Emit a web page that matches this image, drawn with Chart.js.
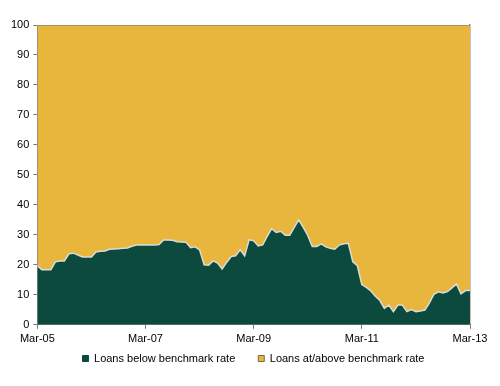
<!DOCTYPE html>
<html>
<head>
<meta charset="utf-8">
<script src="https://cdn.jsdelivr.net/npm/chart.js@4"></script>
<style>
  html, body { margin: 0; padding: 0; background: #fff; }
  #wrap { width: 500px; height: 386px; }
</style>
</head>
<body>
<div id="wrap"><canvas id="grafico-emprestimos"></canvas></div>
<script>
// monthly, Mar-05 .. Mar-13
var tickLabels = ["Mar-05", "Mar-07", "Mar-09", "Mar-11", "Mar-13"];
var belowBenchmark = [
  19.7, 18.4, 18.4, 18.4, 21.0, 21.3, 21.3, 23.7, 23.9, 23.3,
  22.6, 22.6, 22.6, 24.3, 24.5, 24.6, 25.2, 25.3, 25.4, 25.5,
  25.6, 26.2, 26.6, 26.6, 26.6, 26.6, 26.6, 26.8, 28.3, 28.3,
  28.2, 27.7, 27.6, 27.5, 25.7, 26.0, 25.0, 20.0, 19.9, 21.3,
  20.6, 18.6, 20.8, 22.8, 23.0, 25.0, 23.0, 28.4, 28.0, 26.3,
  26.7, 29.5, 32.1, 30.8, 31.2, 29.9, 29.9, 32.5, 35.0, 32.5,
  29.8, 26.1, 26.1, 27.0, 26.0, 25.5, 25.2, 26.6, 27.0, 27.2,
  21.0, 19.7, 13.4, 12.5, 11.3, 9.5, 8.1, 5.5, 6.6, 4.4,
  6.6, 6.6, 4.4, 5.1, 4.4, 4.6, 4.9, 7.3, 10.2, 11.0,
  10.6, 11.1, 12.3, 13.6, 10.3, 11.4, 11.4
];
var atOrAboveBenchmark = belowBenchmark.map(function (v) { return 100 - v; });

var ctx = document.getElementById("grafico-emprestimos").getContext("2d");

// legend sits closer to the axis than chart.js puts it
var legendNudge = {
  id: "legendNudge",
  afterInit: function (chart) {
    var lg = chart.legend;
    var fit = lg.fit;
    lg.fit = function () {
      fit.call(this);
      this.height -= 8;
    };
  },
  afterLayout: function (chart) {
    var lg = chart.legend;
    lg.top -= 20;
    lg.bottom -= 20;
    lg.left += 15;
    lg.right += 15;
  },
};

new Chart(ctx, {
  type: "line",
  data: {
    datasets: [
      {
        label: "Loans below benchmark rate",
        data: belowBenchmark.map(function (v, i) { return { x: i, y: v }; }),
        backgroundColor: "#0b4a3c",
        borderColor: "#d9dcd9",
        borderWidth: 1.5,
        pointRadius: 0,
        tension: 0,
        fill: "origin",
      },
      {
        label: "Loans at/above benchmark rate",
        data: atOrAboveBenchmark.map(function (v, i) { return { x: i, y: v }; }),
        backgroundColor: "#e8b63c",
        borderColor: "#8f8a70",
        borderWidth: 1.5,
        pointRadius: 0,
        tension: 0,
        fill: "-1",
      },
    ],
  },
  plugins: [legendNudge],
  options: {
    responsive: true,
    maintainAspectRatio: false,
    animation: false,
    layout: { padding: { top: 25, right: 30, left: 7, bottom: 0 } },
    plugins: {
      tooltip: { enabled: false },
      legend: {
        display: true,
        position: "bottom",
        labels: {
          boxWidth: 6,
          boxHeight: 6,
          padding: 23,
          color: "#000",
          font: { family: "Liberation Sans, Arial", size: 11 },
          generateLabels: function (chart) {
            return chart.data.datasets.map(function (ds, i) {
              return {
                text: ds.label,
                fillStyle: ds.backgroundColor,
                strokeStyle: i === 1 ? "#7a6a40" : ds.backgroundColor,
                lineWidth: 1,
                datasetIndex: i,
              };
            });
          },
        },
      },
    },
    scales: {
      x: {
        type: "linear",
        min: 0,
        max: 96,
        ticks: {
          stepSize: 24,
          color: "#000",
          padding: 4,
          font: { family: "Liberation Sans, Arial", size: 11 },
          maxRotation: 0,
          callback: function (value) { return tickLabels[value / 24]; },
        },
        grid: { display: true, drawOnChartArea: false, drawTicks: true, tickLength: 4, color: "#777" },
        border: { color: "#888", width: 1 },
      },
      y: {
        stacked: true,
        min: 0,
        max: 100,
        ticks: {
          stepSize: 10,
          color: "#000",
          padding: 4,
          font: { family: "Liberation Sans, Arial", size: 11 },
        },
        grid: { display: true, drawOnChartArea: false, drawTicks: true, tickLength: 4, color: "#777" },
        border: { color: "#888", width: 1 },
      },
      yRight: {
        position: "right",
        min: 0,
        max: 100,
        ticks: { display: false },
        grid: { display: false, drawTicks: false },
        border: { color: "#8f8a70", width: 1.5 },
      },
    },
  },
});
</script>
</body>
</html>
